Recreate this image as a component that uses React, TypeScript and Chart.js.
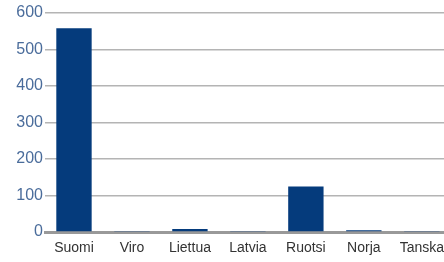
import React, { useEffect, useRef } from "react";
import { Chart, registerables } from "chart.js";

Chart.register(...registerables);

const categories = ["Suomi", "Viro", "Liettua", "Latvia", "Ruotsi", "Norja", "Tanska"];
const values = [558, 3, 8, 3, 125, 5, 3];
const yTicks = [0, 100, 200, 300, 400, 500, 600];

export default function App() {
  const ref = useRef<HTMLCanvasElement | null>(null);
  useEffect(() => {
    if (!ref.current) return;
    const chart = new Chart(ref.current, {
      type: "bar",
      data: {
        labels: categories,
        datasets: [
          {
            data: values,
            backgroundColor: "#053b7c",
            barPercentage: 0.61,
            categoryPercentage: 1,
          },
        ],
      },
      options: {
        responsive: false,
        animation: false,
        layout: { padding: { top: 13, right: 0, left: 0, bottom: 0 } },
        plugins: { legend: { display: false }, tooltip: { enabled: false } },
        scales: {
          x: {
            grid: { display: false, drawTicks: false },
            border: { display: true, color: "#999", width: 3 },
            ticks: {
              color: "#333",
              padding: 8,
              font: { family: "'Liberation Sans', Arial, sans-serif", size: 14 },
              maxRotation: 0,
              autoSkip: false,
            },
            afterFit: (s: any) => {
              s.height = 30;
            },
          },
          y: {
            min: 0,
            max: 600,
            afterBuildTicks: (s: any) => {
              s.ticks = yTicks.map((v) => ({ value: v }));
            },
            grid: { color: "#b4b4b4", lineWidth: 1.5, drawTicks: false },
            border: { display: false },
            ticks: {
              color: "#4a6c9b",
              padding: 2,
              font: { family: "'Liberation Sans', Arial, sans-serif", size: 16 },
            },
            afterFit: (s: any) => {
              s.width = 45;
            },
          },
        },
      },
    });
    return () => chart.destroy();
  }, []);
  return (
    <div style={{ position: "absolute", left: 0, top: 0, width: 444, height: 262, overflow: "hidden", background: "#fff" }}>
      <canvas ref={ref} width={452} height={262} style={{ display: "block", width: 452, height: 262 }} />
    </div>
  );
}
